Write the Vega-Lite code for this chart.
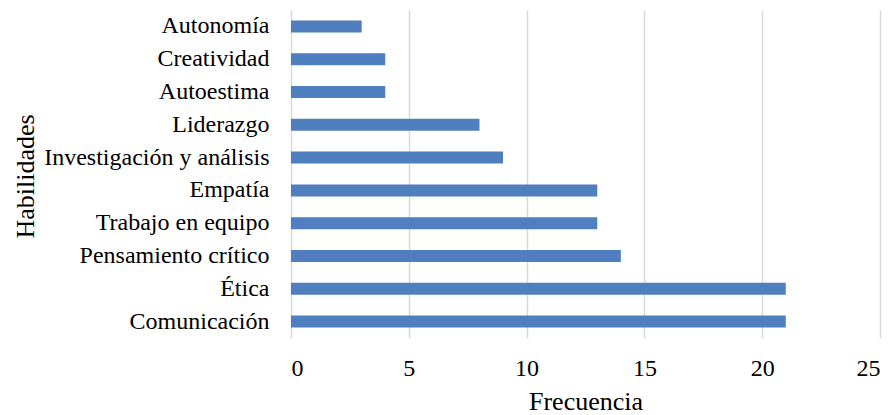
{
  "$schema": "https://vega.github.io/schema/vega-lite/v6.json",
  "width": 589,
  "height": 328,
  "autosize": "none",
  "padding": {"left": 291, "top": 10, "right": 11, "bottom": 77},
  "background": "white",
  "config": {"view": {"stroke": null}, "font": "Liberation Serif"},
  "data": {"values": [
    {"habilidad": "Autonomía", "frecuencia": 3},
    {"habilidad": "Creatividad", "frecuencia": 4},
    {"habilidad": "Autoestima", "frecuencia": 4},
    {"habilidad": "Liderazgo", "frecuencia": 8},
    {"habilidad": "Investigación y análisis", "frecuencia": 9},
    {"habilidad": "Empatía", "frecuencia": 13},
    {"habilidad": "Trabajo en equipo", "frecuencia": 13},
    {"habilidad": "Pensamiento crítico", "frecuencia": 14},
    {"habilidad": "Ética", "frecuencia": 21},
    {"habilidad": "Comunicación", "frecuencia": 21}
  ]},
  "mark": {"type": "bar", "color": "#4F7FBE", "size": 12},
  "encoding": {
    "y": {
      "field": "habilidad", "type": "nominal", "sort": null,
      "scale": {"paddingInner": 0, "paddingOuter": 0},
      "axis": {
        "title": "Habilidades", "domain": false, "ticks": false, "grid": false,
        "labelFont": "Liberation Serif", "labelFontSize": 24, "labelColor": "#000000", "labelPadding": 22, "labelLimit": 400,
        "titleFont": "Liberation Serif", "titleFontSize": 26, "titleFontWeight": "normal", "titleColor": "#000000",
        "titleX": -266, "titleY": 166, "titleBaseline": "middle", "titleAlign": "center", "titleAngle": -90
      }
    },
    "x": {
      "field": "frecuencia", "type": "quantitative",
      "scale": {"domain": [0, 25], "nice": false},
      "axis": {
        "title": "Frecuencia", "values": [0, 5, 10, 15, 20, 25], "domain": false, "ticks": false,
        "grid": true, "gridColor": "#d9d9d9", "gridWidth": 1.5,
        "labelFont": "Liberation Serif", "labelFontSize": 24, "labelColor": "#000000", "labelPadding": 18,
        "titleFont": "Liberation Serif", "titleFontSize": 26, "titleFontWeight": "normal", "titleColor": "#000000",
        "titleX": 294.5, "titleY": 63, "titleBaseline": "middle", "titleAlign": "center"
      }
    }
  }
}
